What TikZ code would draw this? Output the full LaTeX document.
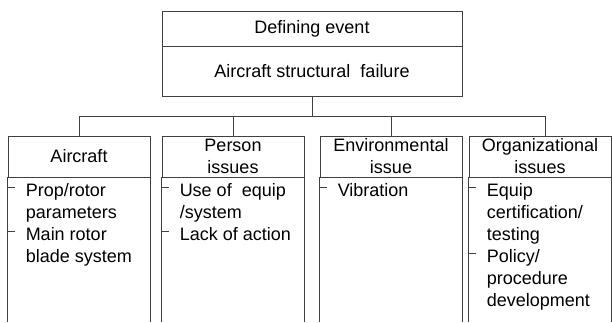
\documentclass[tikz,border=0pt]{standalone}
\usepackage{fontspec}
\setmainfont{Liberation Sans}
\begin{document}
\begin{tikzpicture}[x=1pt, y=1pt,
    rule/.style={draw=black!75, line width=0.9pt},
    top box/.style={rule, minimum width=300pt, inner sep=0pt, font=\fontsize{18}{22}\selectfont},
    head box/.style={rule, minimum width=142pt, minimum height=41pt, inner sep=0pt, align=center, font=\fontsize{18}{22}\selectfont},
    item list/.style={anchor=north west, inner sep=0pt, align=left, font=\fontsize{18}{22}\selectfont}]

    \useasboundingbox (0,0) rectangle (612,-322);

    % Top box
    \node[top box, minimum height=35pt] (event) at (312,-28.5) {Defining event};
    \node[top box, minimum height=50pt] (fail) at (312,-71) {Aircraft structural~~failure};

    % Category heads
    \node[head box] (acft) at (79,-156.5) {Aircraft};
    \node[head box] (pers) at (233,-156.5) {Person\\issues};
    \node[head box] (env) at (391,-156.5) {Environmental\\issue};
    \node[head box] (org) at (540,-156.5) {Organizational\\issues};

    % Tree lines
    \coordinate (bus) at (312,-116);
    \coordinate (bottom) at (0,-322);
    \draw[rule] (fail.south) -- (bus);
    \draw[rule] (bus) -| (acft.north);
    \draw[rule] (bus) -| (pers.north);
    \draw[rule] (bus) -| (env.north);
    \draw[rule] (bus) -| ([xshift=5pt]org.north);

    % Open sides of the columns
    \draw[rule] (acft.south west) -- (acft.south west |- bottom);
    \draw[rule] (acft.south east) -- (acft.south east |- bottom);
    \draw[rule] (pers.south west) -- (pers.south west |- bottom);
    \draw[rule] (pers.south east) -- (pers.south east |- bottom);
    \draw[rule] (env.south west) -- (env.south west |- bottom);
    \draw[rule] (env.south east) -- (env.south east |- bottom);
    \draw[rule] (org.south west) -- (org.south west |- bottom);
    \draw[rule] (org.south east) -- (org.south east |- bottom);

    % Items
    \node[item list] (acft items) at ([xshift=18pt,yshift=-6pt]acft.south west) {Prop/rotor\\parameters\\Main rotor\\blade system};
    \node[item list] (pers items) at ([xshift=18pt,yshift=-6pt]pers.south west) {Use of~~equip\\/system\\Lack of action};
    \node[item list] (env items) at ([xshift=18pt,yshift=-6pt]env.south west) {Vibration};
    \node[item list] (org items) at ([xshift=18pt,yshift=-6pt]org.south west) {Equip\\certification/\\testing\\Policy/\\procedure\\development};

    % Dashes
    \draw[rule] ([yshift=-10pt]acft.south west) -- ++(7,0);
    \draw[rule] ([yshift=-54pt]acft.south west) -- ++(7,0);
    \draw[rule] ([yshift=-10pt]pers.south west) -- ++(7,0);
    \draw[rule] ([yshift=-54pt]pers.south west) -- ++(7,0);
    \draw[rule] ([yshift=-10pt]env.south west) -- ++(7,0);
    \draw[rule] ([yshift=-10pt]org.south west) -- ++(7,0);
    \draw[rule] ([yshift=-76pt]org.south west) -- ++(7,0);

\end{tikzpicture}
\end{document}
